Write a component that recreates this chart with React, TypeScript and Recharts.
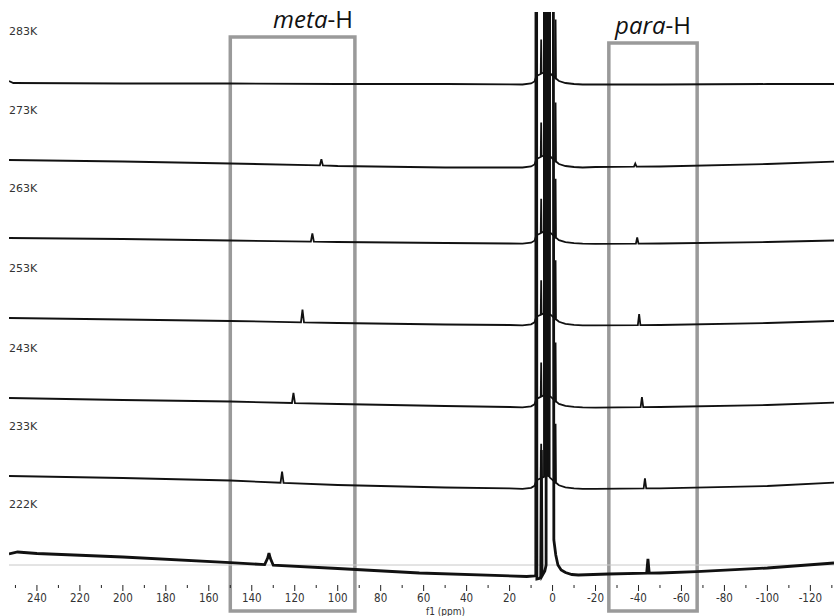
import React from 'react';
import { LineChart, Line, XAxis, YAxis, ReferenceArea, ReferenceLine, LabelList } from 'recharts';

const temps = ['283K', '273K', '263K', '253K', '243K', '233K', '222K'];

// ppm ticks, every 10 ppm (labels on every 20)
const ppmTicks = [250, 240, 230, 220, 210, 200, 190, 180, 170, 160, 150, 140, 130, 120, 110, 100, 90, 80, 70, 60, 50, 40, 30, 20, 10, 0,
  -10, -20, -30, -40, -50, -60, -70, -80, -90, -100, -110, -120, -130];

// highlighted regions
const regions = [
  { name: 'meta', from: 150, to: 92, top: 548, anchor: 'end' },
  { name: 'para', from: -26.2, to: -67.3, top: 542, anchor: 'middle' },
];

// baseline level of each upper spectrum around 0 ppm
const centreLevels = [500.5, 417.5, 341.3, 259.7, 177.6, 96.2];

// diamagnetic signals around 0 ppm: [ppm, height above baseline]
const centrePeaks = [
  [14, 0], [10, 1], [8.4, 3], [8, 5.5], [7.7, 7.5], [7.6, 1500], [7.5, 8.5], [6.5, 9.5],
  [5.5, 10.5], [5.3, 45], [5.1, 11], [4, 12], [3.8, 1500], [3.7, 12.5], [2.5, 13], [2.4, 1500],
  [2.3, 13], [1.6, 12.5], [1.45, 1500], [1.35, 11.5], [0.3, 9.5], [-1.2, 6.5], [-1.4, 65], [-1.6, 6],
  [-3, 3.5], [-6, 1.5], [-10, 0.5], [-14, 0],
];

// low field part (incl. meta-H signal) of each spectrum: [ppm, intensity]
const leftParts = [
  [[253, 504], [251, 502], [200, 501.5], [150, 501.5], [100, 501], [50, 501], [20, 500.7]],
  [[253, 425], [200, 423.5], [150, 421.5], [108.3, 419.7], [107.6, 425.7], [106.9, 419.6], [100, 419], [50, 417.5], [20, 417.5]],
  [[253, 347], [200, 346], [150, 344.5], [112.5, 343.4], [111.8, 351.5], [111.1, 343.3], [100, 343], [50, 342], [20, 341.5]],
  [[253, 267], [200, 265.5], [150, 264], [117.1, 262.7], [116.4, 275.5], [115.7, 262.6], [100, 262], [50, 260.5], [20, 260]],
  [[253, 187], [200, 185], [150, 183.5], [121.3, 182], [120.6, 192], [119.9, 181.9], [100, 181], [50, 179], [20, 178]],
  [[253, 109], [200, 107], [150, 104.5], [126.6, 102.3], [125.9, 113.5], [125.2, 102.2], [100, 100], [50, 97.5], [20, 96.7]],
];

// high field part (incl. para-H signal)
const rightParts = [
  [[-20, 500.5], [-50, 500.5], [-100, 501], [-131, 501]],
  [[-20, 418], [-37.9, 418.4], [-38.5, 421.5], [-39.1, 418.4], [-50, 418.5], [-100, 421], [-131, 423.3]],
  [[-20, 341.2], [-38.8, 341.4], [-39.4, 347.5], [-40, 341.4], [-50, 341.5], [-100, 343], [-131, 344.5]],
  [[-20, 259.6], [-39.7, 259.9], [-40.3, 271], [-40.9, 259.9], [-50, 260], [-100, 262], [-131, 264]],
  [[-20, 177.4], [-41, 177.8], [-41.6, 188], [-42.2, 177.8], [-50, 178], [-100, 180], [-131, 182.3]],
  [[-20, 96.1], [-42.4, 96.6], [-43, 106.6], [-43.6, 96.6], [-50, 96.7], [-100, 99], [-131, 102.3]],
];

// 222K spectrum, read as a whole
const spectrum222 = [
  [253, 31], [249, 33], [240, 31.5], [200, 28], [150, 22.3], [134, 20.4], [132.6, 27], [132, 32], [131.4, 27],
  [130, 19.8], [100, 16.5], [62, 12], [12, 8.5], [8.4, 9], [7.8, 10], [7.6, 1500], [7.3, 6], [6.2, 6.5], [5.5, 8],
  [5.2, 135], [4.9, 9], [3.6, 14], [3, 20], [2.7, 1500], [0, 1500],
  [-0.6, 45], [-1.5, 30], [-2.5, 20], [-4, 15], [-6, 12.5], [-9, 10.5], [-12, 10], [-26, 11], [-43.8, 11.8],
  [-44.4, 26], [-45, 11.8], [-50, 12], [-67, 13.3], [-100, 17], [-131, 22],
];

const toRows = (pts: number[][]) => pts.map(([ppm, v]) => ({ ppm, v }));

const series = [
  ...leftParts.map((left, i) =>
    toRows([...left, ...centrePeaks.map(([p, h]) => [p, centreLevels[i] + h]), ...rightParts[i]])
  ),
  toRows(spectrum222),
];

const tickFont = "'Liberation Sans Narrow', 'DejaVu Sans Condensed', Roboto, sans-serif";

const AxisTick = (props: any) => {
  const { x, y, payload } = props;
  const v = payload.value;
  const major = v % 20 === 0 && v !== 250 && v !== -130;
  return (
    <g>
      <line x1={x} x2={x} y1={y} y2={y + (major ? 6 : 3)} stroke="#222" strokeWidth={1} />
      {major && (
        <text x={x} y={y + 17} textAnchor="middle" fontSize={11.5} fill="#333" fontFamily={tickFont}>
          {v}
        </text>
      )}
    </g>
  );
};

const tempLabel = (name: string) => (props: any) =>
  props.index === 0 ? (
    <text x={props.x} y={props.y - 46} fontSize={11} fill="#333" fontFamily="'DejaVu Sans', sans-serif">
      {name}
    </text>
  ) : null;

const boxLabel = (name: string, anchor: string) => (props: any) => {
  const vb = props.viewBox;
  const x = anchor === 'end' ? vb.x + vb.width - 2 : vb.x + vb.width / 2;
  return (
    <text x={x} y={vb.y - 9} textAnchor={anchor as any} fontSize={24} fill="#111" fontFamily="'Open Sans', sans-serif">
      <tspan fontStyle="italic">{name}</tspan>
      <tspan>-H</tspan>
    </text>
  );
};

export default function App() {
  return (
    <div style={{ position: 'absolute', left: 0, top: 0, width: 834, height: 616, background: '#fff' }}>
      <LineChart width={834} height={616} margin={{ top: 12, right: 0, bottom: 0, left: 9 }}>
        <XAxis
          dataKey="ppm"
          type="number"
          domain={[-131, 253]}
          reversed
          allowDataOverflow
          ticks={ppmTicks}
          interval={0}
          tickLine={false}
          axisLine={false}
          tickSize={0}
          tickMargin={0}
          height={31}
          tick={<AxisTick />}
          label={{ value: 'f1 (ppm)', position: 'insideBottom', offset: 1.5, dx: 24, fontSize: 10, fill: '#333', fontFamily: tickFont }}
        />
        <YAxis hide type="number" domain={[0, 573]} allowDataOverflow />
        <ReferenceLine y={20} stroke="#c8c8c8" strokeWidth={1} />
        {series.map((rows, i) => (
          <Line
            key={temps[i]}
            data={rows}
            dataKey="v"
            type="linear"
            stroke="#111"
            strokeWidth={i === 6 ? 2.8 : 1.8}
            dot={false}
            isAnimationActive={false}
          >
            <LabelList dataKey="v" content={tempLabel(temps[i])} />
          </Line>
        ))}
        {regions.map((r) => (
          <ReferenceArea
            key={r.name}
            x1={r.from}
            x2={r.to}
            y1={-26}
            y2={r.top}
            ifOverflow="visible"
            fill="none"
            stroke="#9a9a9a"
            strokeWidth={3.5}
            label={boxLabel(r.name, r.anchor)}
          />
        ))}
      </LineChart>
    </div>
  );
}
